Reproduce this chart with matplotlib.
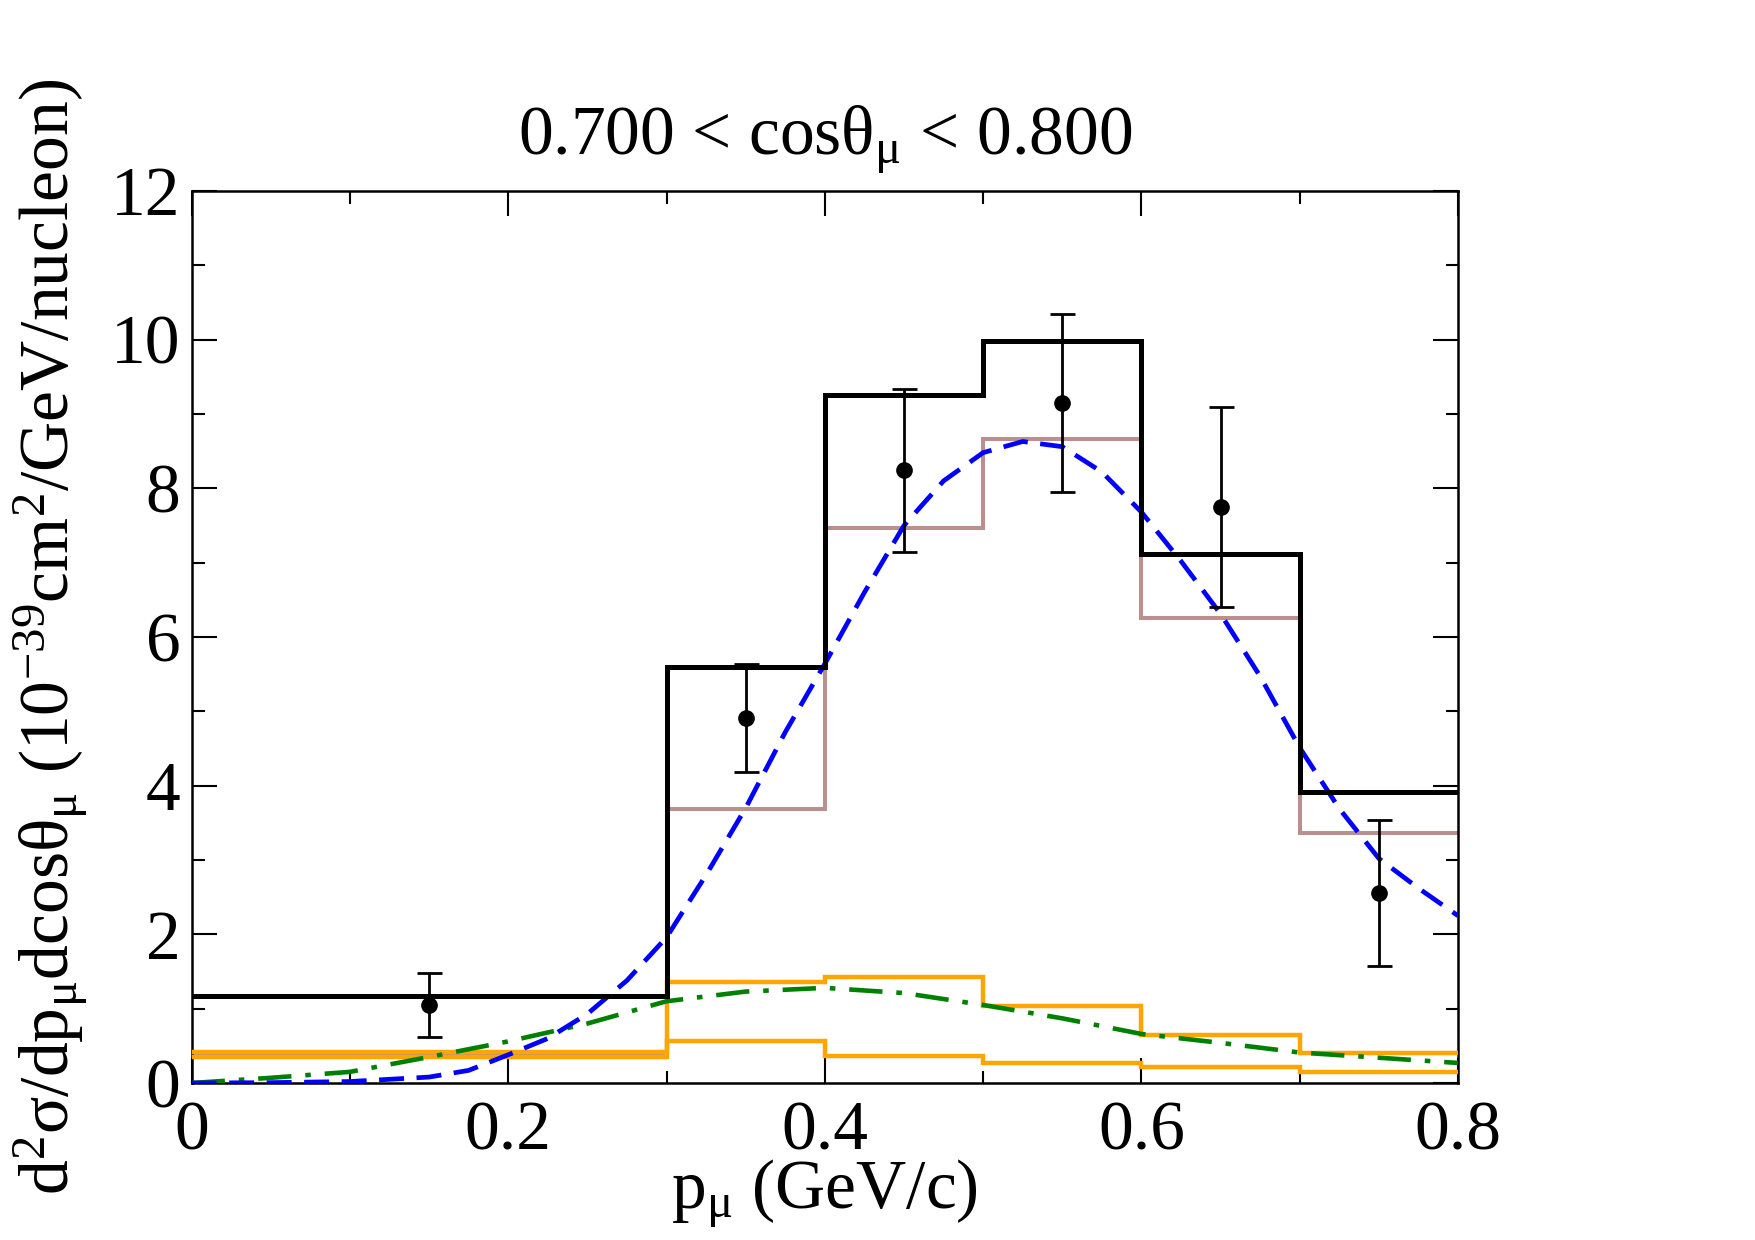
import numpy as np
import matplotlib
matplotlib.use("Agg")
import matplotlib.pyplot as plt
from matplotlib.ticker import MultipleLocator, FuncFormatter

# ---------------- data ----------------
bin_edges = [0.0, 0.3, 0.4, 0.5, 0.6, 0.7, 0.8]
total_hist = [1.17, 5.60, 9.26, 9.98, 7.11, 3.91]        # black
main_hist = [0.37, 3.68, 7.47, 8.66, 6.25, 3.36]         # rosy brown
orange_upper = [0.42, 1.36, 1.42, 1.03, 0.65, 0.40]
orange_lower = [0.35, 0.56, 0.36, 0.27, 0.21, 0.15]

data_x = [0.15, 0.35, 0.45, 0.55, 0.65, 0.75]
data_y = [1.05, 4.91, 8.24, 9.15, 7.75, 2.56]
data_err = [0.43, 0.72, 1.10, 1.20, 1.35, 0.98]

blue_x = [0.0, 0.05, 0.1, 0.15, 0.175, 0.2, 0.225, 0.25, 0.275, 0.3, 0.325,
          0.35, 0.375, 0.4, 0.425, 0.45, 0.475, 0.5, 0.525, 0.55, 0.575, 0.6,
          0.625, 0.65, 0.675, 0.7, 0.725, 0.75, 0.775, 0.8]
blue_y = [0.0, 0.005, 0.02, 0.08, 0.17, 0.38, 0.6, 0.93, 1.38, 1.96, 2.8,
          3.7, 4.72, 5.64, 6.6, 7.5, 8.1, 8.48, 8.63, 8.56, 8.22, 7.68,
          7.02, 6.31, 5.47, 4.51, 3.69, 3.02, 2.62, 2.25]

green_x = [0.0, 0.05, 0.1, 0.15, 0.2, 0.25, 0.3, 0.35, 0.4, 0.45, 0.5,
           0.55, 0.6, 0.65, 0.7, 0.75, 0.8]
green_y = [0.0, 0.07, 0.15, 0.35, 0.56, 0.8, 1.1, 1.23, 1.28, 1.21, 1.05,
           0.87, 0.66, 0.54, 0.41, 0.34, 0.27]

title_text = "0.700 < cosθ$_{μ}$ < 0.800"
xlabel_text = "p$_{μ}$ (GeV/c)"
ylabel_text = "d$^{2}$σ/dp$_{μ}$dcosθ$_{μ}$ (10$^{-39}$cm$^{2}$/GeV/nucleon)"

# ---------------- style ----------------
plt.rcParams['font.family'] = ['Liberation Serif', 'DejaVu Serif']
plt.rcParams['mathtext.default'] = 'regular'
plt.rcParams['lines.scale_dashes'] = False

FS = 50

fig = plt.figure(figsize=(17.55, 12.4), dpi=100)
ax = fig.add_axes([0.1092, 0.1266, 0.7216, 0.7194])

ax.stairs(main_hist, bin_edges, baseline=None, color='#BC8F8F', lw=2.9, zorder=2)
ax.stairs(orange_upper, bin_edges, baseline=None, color='#FFA500', lw=3.2, zorder=3)
ax.stairs(orange_lower, bin_edges, baseline=None, color='#FFA500', lw=3.2, zorder=3)
ax.plot(green_x, green_y, color='#008000', lw=3.3, zorder=4,
        dashes=(24, 10, 4, 10))
ax.plot(blue_x, blue_y, color='#0000FF', lw=3.4, zorder=4,
        dashes=(18, 9))
ax.stairs(total_hist, bin_edges, baseline=None, color='black', lw=3.6, zorder=5)
ax.errorbar(data_x, data_y, yerr=data_err, fmt='o', color='black', ms=11,
            elinewidth=2.0, capsize=9, capthick=2.0, zorder=6)

ax.set_xlim(0, 0.8)
ax.set_ylim(0, 12)
ax.xaxis.set_major_locator(MultipleLocator(0.2))
ax.xaxis.set_minor_locator(MultipleLocator(0.1))
ax.yaxis.set_major_locator(MultipleLocator(2))
ax.yaxis.set_minor_locator(MultipleLocator(1))
ax.xaxis.set_major_formatter(FuncFormatter(
    lambda v, p: "0" if abs(v) < 1e-9 else f"{v:.1f}"))
ax.yaxis.set_major_formatter(FuncFormatter(
    lambda v, p: f"{int(round(v))}"))

ax.tick_params(which='both', direction='in', top=True, right=True,
               labelsize=FS, width=1.5)
ax.tick_params(which='major', length=18)
ax.tick_params(which='minor', length=9)
ax.tick_params(axis='x', which='major', pad=13)
ax.tick_params(axis='y', which='major', pad=8)
for s in ax.spines.values():
    s.set_linewidth(1.8)

ax.text(0.5, 1.0415, title_text, transform=ax.transAxes, ha='center',
        va='baseline', fontsize=FS)
ax.text(0.5, -0.141, xlabel_text, transform=ax.transAxes, ha='center',
        va='baseline', fontsize=FS)
ax.text(-0.111, 0.5, ylabel_text, transform=ax.transAxes, ha='center',
        va='center', rotation=90, fontsize=FS)

fig.savefig("out.png", dpi=100)
